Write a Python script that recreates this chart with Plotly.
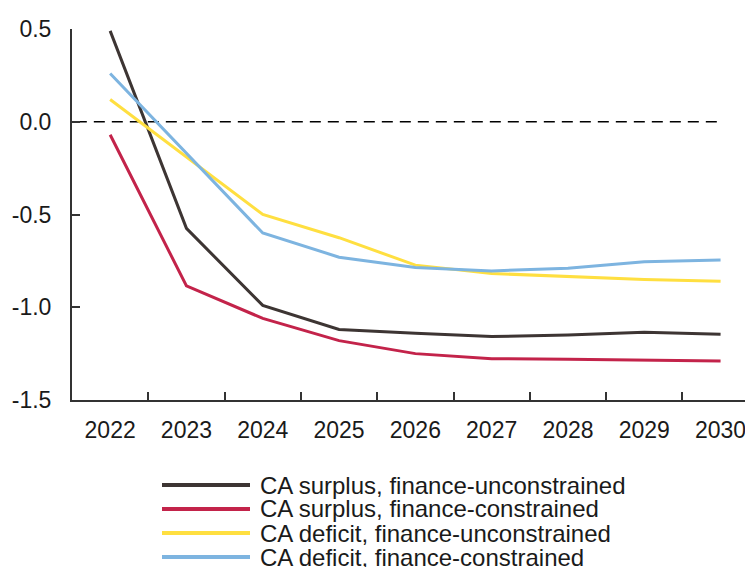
import plotly.graph_objects as go

# ---------------------------------------------------------
# Data
# ---------------------------------------------------------
years = ["2022", "2023", "2024", "2025", "2026", "2027", "2028", "2029", "2030"]

surplus_unconstrained = [0.49, -0.575, -0.99, -1.12, -1.14, -1.158, -1.15, -1.135, -1.145]
surplus_constrained = [-0.07, -0.885, -1.06, -1.18, -1.25, -1.277, -1.28, -1.285, -1.29]
deficit_unconstrained = [0.12, -0.19, -0.50, -0.625, -0.773, -0.818, -0.835, -0.85, -0.86]
deficit_constrained = [0.26, -0.17, -0.60, -0.73, -0.786, -0.804, -0.79, -0.755, -0.745]

series_names = [
    "CA surplus, finance-unconstrained",
    "CA surplus, finance-constrained",
    "CA deficit, finance-unconstrained",
    "CA deficit, finance-constrained",
]
series_values = [surplus_unconstrained, surplus_constrained,
                 deficit_unconstrained, deficit_constrained]
series_colors = ["#3d3533", "#c3234a", "#ffdf40", "#7db4e0"]

FONT = "Liberation Sans, Arial, sans-serif"
OFF = 8                      # page body margin
W, H = 753 - OFF, 567 - OFF
L, T = 72 - OFF, 29 - OFF    # plot area top-left in page pixels
PH = 371                     # plot height
B = H - T - PH


def px_to_paper(x, y):
    # page pixel -> paper coords
    x, y = x - OFF, y - OFF
    pw = W - L
    return (x - L) / pw, (T + PH - y) / PH


fig = go.Figure()
for name, vals, col in zip(series_names, series_values, series_colors):
    fig.add_trace(go.Scatter(
        x=years, y=vals, mode="lines", name=name,
        line=dict(color=col, width=3),
        showlegend=False,
    ))

# zero line (dashed)
fig.add_shape(type="line", xref="x", yref="y", x0=-0.45, x1=8, y0=0, y1=0,
              line=dict(color="black", width=1.5, dash="11px,7px"), layer="below")

# hand-drawn legend (long sample lines)
row_y = [485, 509, 533, 557]
for name, col, ry in zip(series_names, series_colors, row_y):
    x0, y0 = px_to_paper(162, ry)
    x1, _ = px_to_paper(250, ry)
    fig.add_shape(type="line", xref="paper", yref="paper",
                  x0=x0, x1=x1, y0=y0, y1=y0,
                  line=dict(color=col, width=4))
    tx, _ = px_to_paper(258, ry)
    fig.add_annotation(xref="paper", yref="paper", x=tx, y=y0,
                       text=name, showarrow=False,
                       xanchor="left", yanchor="middle",
                       font=dict(size=24, color="#1a1a1a", family=FONT))

fig.update_layout(
    width=W, height=H,
    margin=dict(l=L, r=0, t=T, b=B, pad=0),
    plot_bgcolor="white", paper_bgcolor="white",
    font=dict(family=FONT, size=23, color="#1a1a1a"),
    xaxis=dict(
        type="category",
        range=[-0.5, 8.425],
        tickson="boundaries",
        ticks="inside", ticklen=8, tickwidth=1.5, tickcolor="#333",
        showline=True, linecolor="#333", linewidth=2,
        showgrid=False, zeroline=False,
        ticklabelstandoff=8,
    ),
    yaxis=dict(
        range=[-1.5, 0.5],
        tickvals=[0.5, 0.0, -0.5, -1.0, -1.5],
        ticktext=["0.5", "0.0", "-0.5", "-1.0", "-1.5"],
        ticks="inside", ticklen=8, tickwidth=1.5, tickcolor="#333",
        showline=True, linecolor="#333", linewidth=2,
        showgrid=False, zeroline=False,
        ticklabelstandoff=14,
    ),
)

fig.write_html("out.html")
